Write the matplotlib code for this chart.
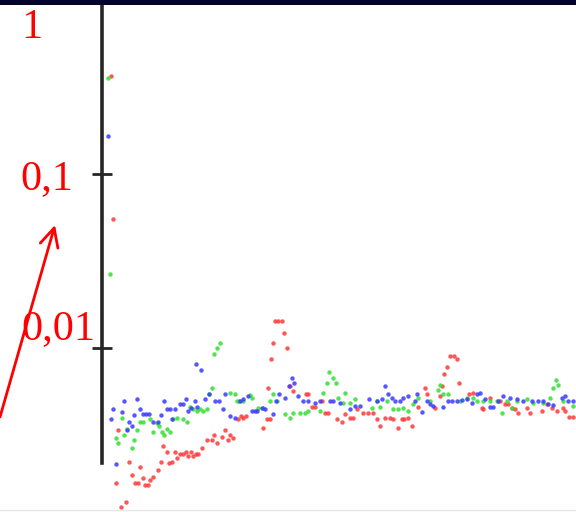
import matplotlib
matplotlib.use("Agg")
import matplotlib.pyplot as plt
from matplotlib.patches import Rectangle
from matplotlib.lines import Line2D
from matplotlib.text import Annotation

# ---------------- data ----------------
blue_t = [6, 9, 11, 14, 20, 22, 25, 27, 30, 32, 35, 38, 41, 44, 47, 51, 56, 59, 62, 65,
          68, 70, 73, 78, 81, 84, 86, 89, 93, 94, 95, 99, 103, 107, 113, 117, 121, 123, 128, 133,
          138, 141, 146, 150, 153, 155, 160, 163, 171, 174, 177, 183, 187, 190, 192, 196, 201, 206, 213, 218,
          228, 231, 238, 248, 253, 258, 267, 275, 280, 283, 286, 290, 293, 298, 301, 306, 313, 315, 320, 325,
          328, 331, 341, 346, 350, 355, 360, 365, 370, 375, 378, 383, 388, 391, 396, 401, 408, 415, 421, 430,
          436, 441, 446, 451, 460, 463, 466, 471]
blue_v = [0.165, 0.00393, 0.00448, 0.00215, 0.00431, 0.00498, 0.00336, 0.00373, 0.00358, 0.00414,
          0.00511, 0.00448, 0.0042, 0.0042, 0.0042, 0.00373, 0.00373, 0.00414, 0.00498, 0.00448,
          0.00448, 0.00393, 0.00448, 0.00479, 0.00479, 0.00511, 0.00437, 0.00454, 0.00498, 0.0081,
          0.0046, 0.00749, 0.00511, 0.00546, 0.00498, 0.00498, 0.00448, 0.00546, 0.00409, 0.00398,
          0.00498, 0.00511, 0.00532, 0.00437, 0.00437, 0.00437, 0.00454, 0.00448, 0.0042, 0.00498,
          0.00546, 0.00518, 0.00607, 0.00674, 0.00631, 0.00532, 0.00498, 0.00498, 0.00485, 0.00498,
          0.00498, 0.00498, 0.00485, 0.00448, 0.00466, 0.00466, 0.00511, 0.00498, 0.00511, 0.00607,
          0.00546, 0.00518, 0.00498, 0.00498, 0.00518, 0.00532, 0.00498, 0.00546, 0.00431, 0.00498,
          0.00479, 0.00466, 0.0046, 0.00498, 0.00498, 0.00498, 0.00504, 0.00511, 0.00485, 0.00546,
          0.00553, 0.00511, 0.0046, 0.0046, 0.00498, 0.00532, 0.00518, 0.00511, 0.00498, 0.00498,
          0.00498, 0.00498, 0.00479, 0.00472, 0.00518, 0.00532, 0.00498, 0.00498]

green_t = [6, 8, 14, 16, 20, 22, 25, 30, 32, 35, 38, 41, 48, 51, 55, 57, 60, 62, 65, 68,
           71, 75, 81, 85, 88, 91, 95, 98, 101, 105, 107, 110, 112, 115, 118, 128, 133, 135, 137, 141,
           148, 150, 156, 161, 168, 171, 175, 183, 188, 191, 198, 203, 206, 218, 221, 225, 227, 231, 234, 236,
           241, 243, 248, 253, 270, 275, 278, 285, 291, 296, 301, 306, 311, 316, 328, 336, 338, 341, 346, 358,
           365, 371, 375, 381, 388, 395, 400, 405, 410, 415, 425, 431, 441, 448, 451, 454, 456, 461, 471]
green_v = [0.354, 0.0265, 0.00302, 0.00283, 0.00398, 0.00314, 0.00344, 0.00265, 0.00294, 0.00336,
           0.00373, 0.00373, 0.00393, 0.00327, 0.00368, 0.00358, 0.00327, 0.00314, 0.00344, 0.00327,
           0.00393, 0.00398, 0.00393, 0.00373, 0.0046, 0.00448, 0.00437, 0.00448, 0.00437, 0.00448,
           0.00546, 0.00591, 0.00924, 0.0100, 0.01068, 0.00553, 0.00546, 0.00498, 0.00498, 0.00498,
           0.00539, 0.00518, 0.00454, 0.00454, 0.00498, 0.00546, 0.00498, 0.0042, 0.00398, 0.00425,
           0.00425, 0.00425, 0.00437, 0.00437, 0.00553, 0.00631, 0.00729, 0.00674, 0.00631, 0.00518,
           0.00485, 0.00553, 0.00485, 0.00511, 0.00454, 0.00498, 0.0046, 0.00498, 0.00448, 0.00448,
           0.00454, 0.00437, 0.00479, 0.00518, 0.00498, 0.00575, 0.00615, 0.00546, 0.00546, 0.00498,
           0.00518, 0.00518, 0.00498, 0.00498, 0.00498, 0.00498, 0.00425, 0.00498, 0.00454, 0.00498,
           0.00511, 0.00485, 0.00485, 0.00518, 0.00591, 0.00657, 0.00615, 0.00498, 0.00466]

red_t = [9, 11, 14, 16, 19, 24, 27, 30, 33, 36, 38, 41, 43, 46, 48, 51, 56, 59, 61, 65,
         67, 70, 73, 75, 78, 81, 84, 86, 89, 91, 94, 96, 100, 105, 110, 112, 115, 120, 123, 126,
         128, 131, 136, 139, 141, 144, 161, 165, 166, 168, 169, 171, 173, 176, 180, 182, 185, 188, 191, 204,
         206, 210, 213, 220, 223, 226, 235, 240, 243, 248, 251, 255, 261, 266, 271, 275, 278, 283, 288, 291,
         296, 300, 302, 306, 310, 316, 323, 325, 333, 338, 340, 342, 345, 348, 352, 355, 357, 367, 371, 380,
         381, 388, 398, 403, 406, 410, 413, 416, 425, 428, 440, 445, 450, 455, 461, 463, 467, 471]
red_v = [0.368, 0.0553, 0.00167, 0.00336, 0.00122, 0.0013, 0.0022, 0.00186, 0.00167, 0.00167,
         0.00206, 0.00178, 0.00163, 0.00163, 0.00174, 0.00181, 0.00198, 0.0022, 0.00272, 0.00251,
         0.00217, 0.0022, 0.00251, 0.00232, 0.00245, 0.00245, 0.00254, 0.00238, 0.00254, 0.00238,
         0.00245, 0.00245, 0.00265, 0.00294, 0.00294, 0.00314, 0.00283, 0.00306, 0.00336, 0.00294,
         0.00314, 0.00302, 0.00393, 0.00409, 0.00398, 0.00409, 0.00349, 0.00393, 0.00591, 0.00388,
         0.00865, 0.01068, 0.01427, 0.01427, 0.01427, 0.01218, 0.0100, 0.00607, 0.00568, 0.00546,
         0.00546, 0.0046, 0.0046, 0.00498, 0.00425, 0.00425, 0.00393, 0.00373, 0.0042, 0.00398,
         0.00398, 0.00448, 0.00425, 0.00425, 0.00425, 0.00393, 0.00358, 0.00398, 0.00398, 0.00393,
         0.00349, 0.00393, 0.00393, 0.00398, 0.00358, 0.0046, 0.00591, 0.00546, 0.00454, 0.00532,
         0.00607, 0.0071, 0.00779, 0.0090, 0.0090, 0.00865, 0.00631, 0.00546, 0.00553, 0.00454,
         0.00448, 0.00518, 0.00498, 0.00479, 0.00479, 0.00454, 0.00448, 0.00425, 0.00454, 0.00425,
         0.00437, 0.00479, 0.00454, 0.00437, 0.00454, 0.00437, 0.00403, 0.00403]

tick_values = [1, 0.1, 0.01]
tick_labels = ["1", "0,1", "0,01"]

# ---------------- figure ----------------
W, H, DPI = 576, 512, 100
fig = plt.figure(figsize=(W / DPI, H / DPI), dpi=DPI)
fig.patch.set_facecolor("white")

ax = fig.add_axes([102 / W, 0.0, 474 / W, 1.0])
ax.set_yscale("log")
ax.set_xlim(0, 474)
ax.set_ylim(10 ** (-1 - 340 / 175), 10 ** (-1 + 172 / 175))
ax.set_facecolor("none")

ms = 3.2
ax.plot(red_t, red_v, "o", color="#ff3a3a", ms=ms, mew=0, alpha=0.85)
ax.plot(green_t, green_v, "o", color="#33e033", ms=ms, mew=0, alpha=0.85)
ax.plot(blue_t, blue_v, "o", color="#3a3aff", ms=ms, mew=0, alpha=0.85)

for s in ["top", "right", "bottom"]:
    ax.spines[s].set_visible(False)
ax.spines["left"].set_color("#262626")
ax.spines["left"].set_linewidth(2.6)
ax.spines["left"].set_bounds(0.00217, 2.0)

ax.set_xticks([])
ax.yaxis.set_minor_locator(matplotlib.ticker.NullLocator())
ax.set_yticks(tick_values)
ax.set_yticklabels([])
ax.tick_params(axis="y", direction="inout", length=15, width=2, color="#262626")

# tick labels (red serif), individually offset as in the slide
offsets = [(-60, -38), (-29, -15), (-7, 9)]
for v, lab, (dx, dy) in zip(tick_values, tick_labels, offsets):
    ax.annotate(lab, xy=(0, v), xycoords=("axes fraction", "data"),
                xytext=(dx, dy), textcoords="offset pixels",
                ha="right", va="baseline", color="#ff0000",
                fontsize=30.5, family="Liberation Serif", annotation_clip=False)

# red arrow
fig.add_artist(Annotation(
    "", xy=(55, 287), xycoords="figure pixels", xytext=(0, 95), textcoords="figure pixels",
    arrowprops=dict(arrowstyle="->,head_length=0.6,head_width=0.3", mutation_scale=22,
                    color="#ff0000", lw=2.0, shrinkA=0, shrinkB=0)))

# dark bar at top of slide
fig.add_artist(Rectangle((0, 1 - 5 / H), 1, 5 / H, transform=fig.transFigure,
                         facecolor="#03032b", edgecolor="none", zorder=10))
# faint bottom line
fig.add_artist(Line2D([0, 1], [2.5 / H, 2.5 / H], transform=fig.transFigure,
                      color="#e6e6e6", lw=1))

fig.savefig("out.png", dpi=DPI)
